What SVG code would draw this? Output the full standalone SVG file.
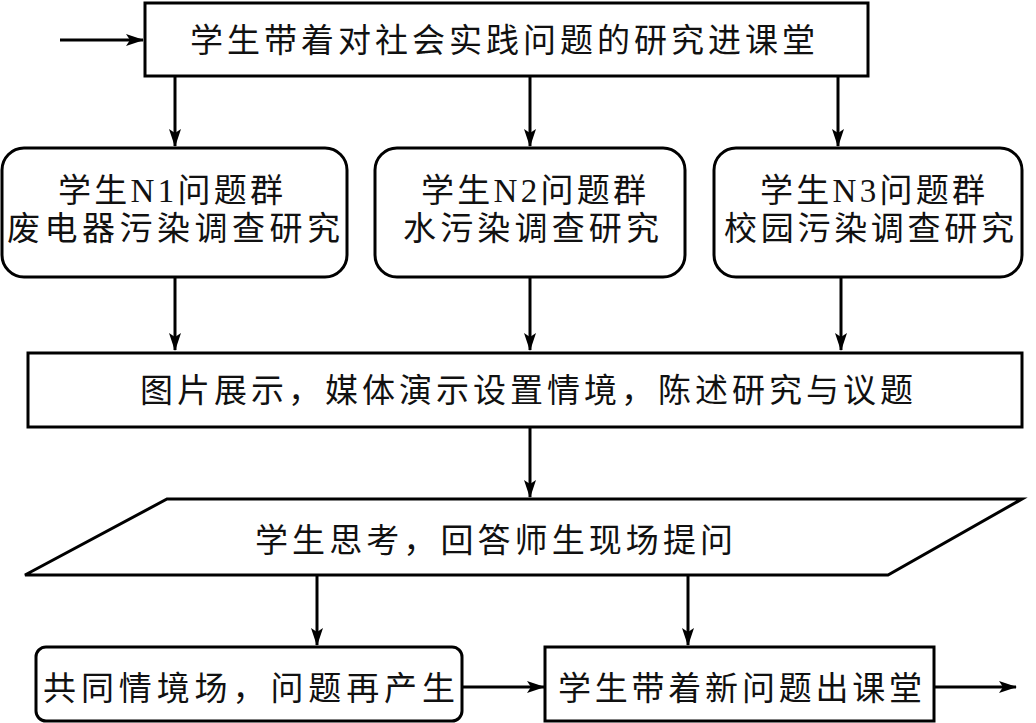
<svg xmlns="http://www.w3.org/2000/svg" width="1036" height="723" viewBox="0 0 1036 723">
<style>
.box{fill:#fff;stroke:#000;stroke-width:3}
.t{font-family:"Liberation Serif","Noto Sans CJK SC",serif;font-size:33px;fill:#111}
.c{fill:none;stroke:#000;stroke-width:3}
</style>
<defs>
<marker id="ah" markerWidth="18" markerHeight="12" refX="17" refY="6" orient="auto" markerUnits="userSpaceOnUse">
<path d="M0,0 L18,6 L0,12 L4,6 Z" fill="#000"/>
</marker>
</defs>
<rect width="1036" height="723" fill="#fff"/>
<g id="connectors">
<line class="c" x1="60" y1="40" x2="143" y2="40" marker-end="url(#ah)"/>
<line class="c" x1="175" y1="76" x2="175" y2="146" marker-end="url(#ah)"/>
<line class="c" x1="530" y1="76" x2="530" y2="146" marker-end="url(#ah)"/>
<line class="c" x1="838" y1="76" x2="838" y2="146" marker-end="url(#ah)"/>
<line class="c" x1="175" y1="278" x2="175" y2="350" marker-end="url(#ah)"/>
<line class="c" x1="530" y1="278" x2="530" y2="350" marker-end="url(#ah)"/>
<line class="c" x1="841" y1="278" x2="841" y2="350" marker-end="url(#ah)"/>
<line class="c" x1="530" y1="428" x2="530" y2="497" marker-end="url(#ah)"/>
<line class="c" x1="317" y1="576" x2="317" y2="645" marker-end="url(#ah)"/>
<line class="c" x1="688" y1="576" x2="688" y2="645" marker-end="url(#ah)"/>
<line class="c" x1="462" y1="687" x2="544" y2="687" marker-end="url(#ah)"/>
<line class="c" x1="935" y1="687" x2="1016" y2="687" marker-end="url(#ah)"/>
</g>
<g id="n0">
<rect class="box" x="145" y="3" width="723" height="73"/>
<text class="t" x="190" y="52" textLength="625" lengthAdjust="spacing">学生带着对社会实践问题的研究进课堂</text>
</g>
<g id="n1">
<rect class="box" x="2" y="148" width="345" height="129" rx="22"/>
<text class="t" x="58" y="202" textLength="225" lengthAdjust="spacing">学生N1问题群</text>
<text class="t" x="7" y="240" textLength="333" lengthAdjust="spacing">废电器污染调查研究</text>
</g>
<g id="n2">
<rect class="box" x="375" y="148" width="310" height="129" rx="22"/>
<text class="t" x="421" y="202" textLength="225" lengthAdjust="spacing">学生N2问题群</text>
<text class="t" x="403" y="240" textLength="256" lengthAdjust="spacing">水污染调查研究</text>
</g>
<g id="n3">
<rect class="box" x="714" y="148" width="308" height="129" rx="22"/>
<text class="t" x="760" y="202" textLength="225" lengthAdjust="spacing">学生N3问题群</text>
<text class="t" x="724" y="240" textLength="290" lengthAdjust="spacing">校园污染调查研究</text>
</g>
<g id="n4">
<rect class="box" x="28" y="353" width="994" height="74"/>
<text class="t" x="140" y="402" textLength="773" lengthAdjust="spacing">图片展示，媒体演示设置情境，陈述研究与议题</text>
</g>
<g id="n5">
<polygon class="box" points="167,499 1022,499 888,575 25,575"/>
<text class="t" x="255" y="552" textLength="478" lengthAdjust="spacing">学生思考，回答师生现场提问</text>
</g>
<g id="n6">
<rect class="box" x="36" y="647" width="426" height="74" rx="10"/>
<text class="t" x="43" y="700" textLength="412" lengthAdjust="spacing">共同情境场，问题再产生</text>
</g>
<g id="n7">
<rect class="box" x="545" y="647" width="389" height="74"/>
<text class="t" x="558" y="700" textLength="364" lengthAdjust="spacing">学生带着新问题出课堂</text>
</g>
</svg>
